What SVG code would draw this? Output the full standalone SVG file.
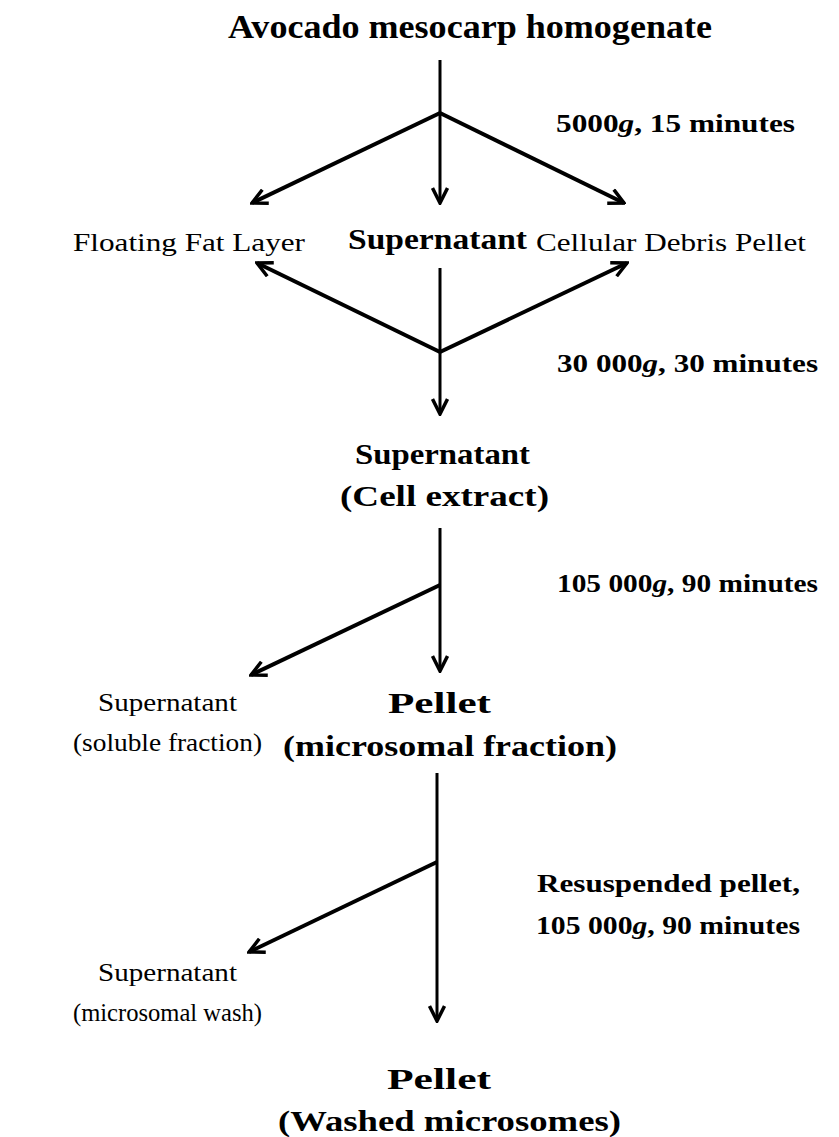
<svg xmlns="http://www.w3.org/2000/svg" width="839" height="1137" viewBox="0 0 839 1137">
<style>
text{font-family:"Liberation Serif","Times New Roman",serif;fill:#000}
.b{font-weight:bold}
.t{font-size:33px}
.h{font-size:30px}
.c{font-size:26px}
.r{font-size:26px}
.ln{stroke:#000;fill:none;stroke-linecap:butt}
.v{stroke-width:3}
.d{stroke-width:4}
</style>
<defs>
<marker id="ah" viewBox="0 0 18 18" refX="16" refY="9" markerWidth="18" markerHeight="18" markerUnits="userSpaceOnUse" orient="auto">
<path d="M1,1.5 L16,9 L1,16.5" fill="none" stroke="#000" stroke-width="3.5" stroke-linejoin="miter"/>
</marker>
</defs>
<rect width="839" height="1137" fill="#fff"/>
<g id="connectors">
<line class="ln v" x1="440" y1="60" x2="440" y2="203" marker-end="url(#ah)"/>
<line class="ln d" x1="440" y1="113" x2="252" y2="203" marker-end="url(#ah)"/>
<line class="ln d" x1="440" y1="113" x2="624" y2="203" marker-end="url(#ah)"/>
<line class="ln v" x1="440" y1="268" x2="440" y2="414" marker-end="url(#ah)"/>
<line class="ln d" x1="440" y1="352" x2="257" y2="263" marker-end="url(#ah)"/>
<line class="ln d" x1="440" y1="352" x2="627" y2="263" marker-end="url(#ah)"/>
<line class="ln v" x1="440" y1="528" x2="440" y2="671" marker-end="url(#ah)"/>
<line class="ln d" x1="440" y1="585" x2="251" y2="675" marker-end="url(#ah)"/>
<line class="ln v" x1="437" y1="773" x2="437" y2="1021" marker-end="url(#ah)"/>
<line class="ln d" x1="437" y1="862" x2="249" y2="952" marker-end="url(#ah)"/>
</g>
<g id="n-homogenate"><text class="b t" x="228" y="38" textLength="484" lengthAdjust="spacingAndGlyphs">Avocado mesocarp homogenate</text></g>
<g id="c-5000"><text class="b c" x="556" y="132" textLength="239" lengthAdjust="spacingAndGlyphs">5000<tspan font-style="italic">g</tspan>, 15 minutes</text></g>
<g id="n-fat"><text class="r" x="73" y="251" textLength="232" lengthAdjust="spacingAndGlyphs">Floating Fat Layer</text></g>
<g id="n-sup1"><text class="b h" x="348" y="249" textLength="179" lengthAdjust="spacingAndGlyphs">Supernatant</text></g>
<g id="n-debris"><text class="r" x="536" y="251" textLength="270" lengthAdjust="spacingAndGlyphs">Cellular Debris Pellet</text></g>
<g id="c-30000"><text class="b c" x="557" y="372" textLength="261" lengthAdjust="spacingAndGlyphs">30 000<tspan font-style="italic">g</tspan>, 30 minutes</text></g>
<g id="n-cellextract">
<text class="b h" x="355" y="464" textLength="175" lengthAdjust="spacingAndGlyphs">Supernatant</text>
<text class="b h" x="340" y="506" textLength="209" lengthAdjust="spacingAndGlyphs">(Cell extract)</text>
</g>
<g id="c-105000a"><text class="b c" x="557" y="592" textLength="261" lengthAdjust="spacingAndGlyphs">105 000<tspan font-style="italic">g</tspan>, 90 minutes</text></g>
<g id="n-soluble">
<text class="r" x="98" y="711" textLength="139" lengthAdjust="spacingAndGlyphs">Supernatant</text>
<text class="r" x="73" y="751" textLength="189" lengthAdjust="spacingAndGlyphs">(soluble fraction)</text>
</g>
<g id="n-microsomal">
<text class="b h" x="388" y="713" textLength="103" lengthAdjust="spacingAndGlyphs">Pellet</text>
<text class="b h" x="283" y="756" textLength="334" lengthAdjust="spacingAndGlyphs">(microsomal fraction)</text>
</g>
<g id="c-resusp">
<text class="b c" x="537" y="892" textLength="263" lengthAdjust="spacingAndGlyphs">Resuspended pellet,</text>
<text class="b c" x="536" y="934" textLength="264" lengthAdjust="spacingAndGlyphs">105 000<tspan font-style="italic">g</tspan>, 90 minutes</text>
</g>
<g id="n-wash">
<text class="r" x="98" y="981" textLength="139" lengthAdjust="spacingAndGlyphs">Supernatant</text>
<text class="r" x="73" y="1021" textLength="189" lengthAdjust="spacingAndGlyphs">(microsomal wash)</text>
</g>
<g id="n-washed">
<text class="b h" x="387" y="1089" textLength="104" lengthAdjust="spacingAndGlyphs">Pellet</text>
<text class="b h" x="278" y="1131" textLength="343" lengthAdjust="spacingAndGlyphs">(Washed microsomes)</text>
</g>
</svg>
